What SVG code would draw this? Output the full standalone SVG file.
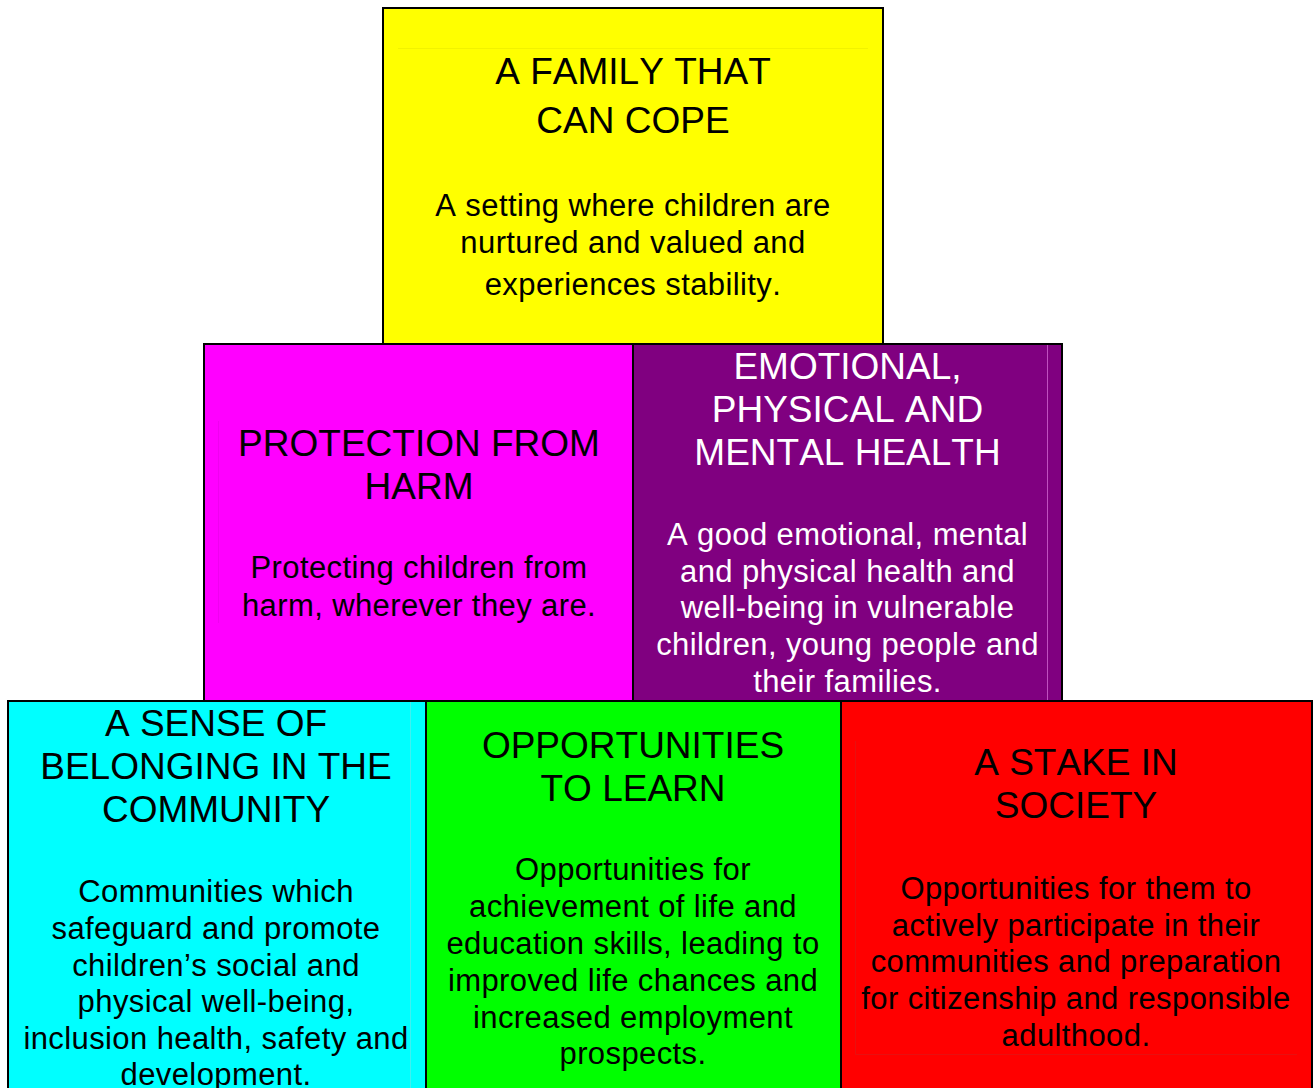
<svg xmlns="http://www.w3.org/2000/svg" width="1313" height="1088" viewBox="0 0 1313 1088">
<style>
.box{stroke:#000;stroke-width:2}
text{font-kerning:none}
.t{font-family:"Liberation Sans",Arial,sans-serif;font-size:37px;text-anchor:middle;fill:#000}
.b{font-family:"Liberation Sans",Arial,sans-serif;font-size:31px;letter-spacing:0.4px;text-anchor:middle;fill:#000}
.w{fill:#fff}
.frame{fill:none;stroke-width:1}
</style>
<rect width="1313" height="1088" fill="#fff"/>
<g id="family">
<rect class="box" x="383" y="8" width="500" height="336" fill="#ffff00"/>
<line class="frame" x1="398" y1="48.5" x2="868" y2="48.5" stroke="#f2f200"/>
<text class="t" x="633" y="84">A FAMILY THAT</text>
<text class="t" x="633" y="133">CAN COPE</text>
<text class="b" x="633" y="216">A setting where children are</text>
<text class="b" x="633" y="253">nurtured and valued and</text>
<text class="b" x="633" y="295">experiences stability.</text>
</g>
<g id="protection">
<rect class="box" x="204" y="344" width="429" height="357" fill="#ff00ff"/>
<line class="frame" x1="218.5" y1="421" x2="218.5" y2="623" stroke="#f000f0"/>
<text class="t" x="419" y="456">PROTECTION FROM</text>
<text class="t" x="419" y="499">HARM</text>
<text class="b" x="419" y="578">Protecting children from</text>
<text class="b" x="419" y="616">harm, wherever they are.</text>
</g>
<g id="health">
<rect class="box" x="633" y="344" width="429" height="357" fill="#800080"/>
<line class="frame" x1="1047.5" y1="345" x2="1047.5" y2="700" stroke="#c050c0"/>
<text class="t w" x="847.5" y="379">EMOTIONAL,</text>
<text class="t w" x="847.5" y="422">PHYSICAL AND</text>
<text class="t w" x="847.5" y="465">MENTAL HEALTH</text>
<text class="b w" x="847.5" y="545">A good emotional, mental</text>
<text class="b w" x="847.5" y="582">and physical health and</text>
<text class="b w" x="847.5" y="618">well-being in vulnerable</text>
<text class="b w" x="847.5" y="655">children, young people and</text>
<text class="b w" x="847.5" y="692">their families.</text>
</g>
<g id="belonging">
<rect class="box" x="8" y="701" width="418" height="400" fill="#00ffff"/>
<line class="frame" x1="410.5" y1="702" x2="410.5" y2="1088" stroke="#40f0f0"/>
<text class="t" x="216" y="736">A SENSE OF</text>
<text class="t" x="216" y="779">BELONGING IN THE</text>
<text class="t" x="216" y="822">COMMUNITY</text>
<text class="b" x="216" y="902">Communities which</text>
<text class="b" x="216" y="939">safeguard and promote</text>
<text class="b" x="216" y="976">children’s social and</text>
<text class="b" x="216" y="1012">physical well-being,</text>
<text class="b" x="216" y="1049">inclusion health, safety and</text>
<text class="b" x="216" y="1085">development.</text>
</g>
<g id="learn">
<rect class="box" x="426" y="701" width="415" height="400" fill="#00ff00"/>
<text class="t" x="633" y="758">OPPORTUNITIES</text>
<text class="t" x="633" y="801">TO LEARN</text>
<text class="b" x="633" y="880">Opportunities for</text>
<text class="b" x="633" y="917">achievement of life and</text>
<text class="b" x="633" y="954">education skills, leading to</text>
<text class="b" x="633" y="991">improved life chances and</text>
<text class="b" x="633" y="1028">increased employment</text>
<text class="b" x="633" y="1064">prospects.</text>
</g>
<g id="stake">
<rect class="box" x="841" y="701" width="471" height="400" fill="#ff0000"/>
<polyline class="frame" points="855.5,741 855.5,1054.5 1297,1054.5" stroke="#e81010"/>
<text class="t" x="1076" y="775">A STAKE IN</text>
<text class="t" x="1076" y="818">SOCIETY</text>
<text class="b" x="1076" y="899">Opportunities for them to</text>
<text class="b" x="1076" y="936">actively participate in their</text>
<text class="b" x="1076" y="972">communities and preparation</text>
<text class="b" x="1076" y="1009">for citizenship and responsible</text>
<text class="b" x="1076" y="1046">adulthood.</text>
</g>
<g id="connectors"></g>
</svg>
